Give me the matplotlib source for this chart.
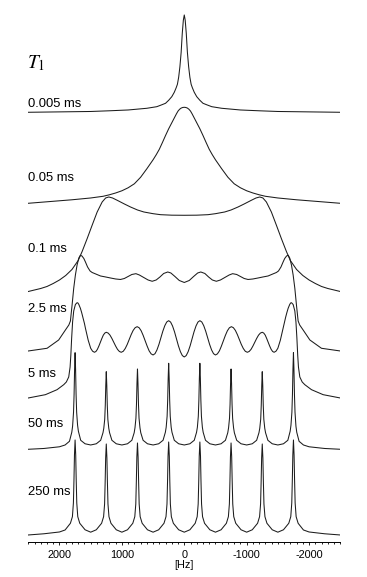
import matplotlib
matplotlib.use("Agg")
import matplotlib.pyplot as plt
from matplotlib.ticker import MultipleLocator, FixedLocator, FixedFormatter

plt.rcParams['font.family'] = ['Liberation Sans', 'DejaVu Sans']
plt.rcParams['mathtext.fontset'] = 'stix'

# labels of the traces, top to bottom
t1_labels = ['0.005 ms', '0.05 ms', '0.1 ms', '2.5 ms', '5 ms', '50 ms', '250 ms']

# frequency [Hz] and intensity (arbitrary units)
hz_0005 = [2500, 2000, 1500, 1200, 900, 600, 440, 360, 300, 250, 200, 160, 130, 110, 90, 70, 50, 32, 15, 0,
           -15, -32, -50, -70, -90, -110, -130, -160, -200, -250, -300, -360, -440, -600, -900, -1200,
           -1500, -2000, -2500]
int_0005 = [0, 0.4, 0.8, 1.5, 2.3, 4, 5.6, 7.5, 9, 12, 15.6, 20, 24.5, 28, 35, 45.6, 60, 79, 92, 97.3,
            92, 79, 60, 45.6, 35, 28, 24.5, 20, 15.6, 12, 9, 7.5, 5.6, 4, 2.3, 1.5,
            0.8, 0.4, 0]

hz_005 = [2500, 2100, 1800, 1500, 1300, 1200, 1100, 1000, 900, 800, 700, 600, 550, 500, 450, 400,
          350, 300, 250, 200, 150, 125, 100, 75, 50, 25, 0,
          -25, -50, -75, -100, -125, -150, -200, -250, -300, -350, -400, -450, -500, -550, -600, -700, -800,
          -900, -1000, -1100, -1200, -1300, -1500, -1800, -2100, -2500]
int_005 = [0, 2, 3.5, 5.3, 7, 8.5, 10.3, 12.5, 15.5, 19.5, 26, 34.5, 39, 43.5, 48.5, 54,
           60.8, 67.8, 74.5, 80.5, 86.5, 89.5, 92.2, 94, 95.2, 95.8, 96,
           95.8, 95.2, 94, 92.2, 89.5, 86.5, 80.5, 74.5, 67.8, 60.8, 54, 48.5, 43.5, 39, 34.5, 26, 19.5,
           15.5, 12.5, 10.3, 8.5, 7, 5.3, 3.5, 2, 0]

hz_01 = [2500, 2300, 2200, 2100, 2000, 1900, 1800, 1700, 1637, 1557, 1477, 1396, 1316,
         1260, 1210, 1150, 1075, 960, 862, 750, 648, 500, 380, 200, 0,
         -200, -380, -500, -648, -750, -862, -960, -1075, -1150, -1210, -1260,
         -1316, -1396, -1477, -1557, -1637, -1700, -1800, -1900, -2000, -2100, -2200, -2300, -2500]
int_01 = [0, 3, 5, 8, 11.5, 16, 22, 31, 40, 52.8, 66.2, 79.5, 89.5,
          93.5, 94.5, 93.5, 91.2, 87.5, 84.5, 81.5, 79.5, 77.8, 76.8, 76.3, 76.2,
          76.3, 76.8, 77.8, 79.5, 81.5, 84.5, 87.5, 91.2, 93.5, 94.5, 93.5,
          89.5, 79.5, 66.2, 52.8, 40, 31, 22, 16, 11.5, 8, 5, 3, 0]

hz_25 = [2500, 2199, 2013, 1905, 1850, 1825, 1798, 1772, 1745, 1718,
         1690, 1665, 1640, 1610, 1584, 1550, 1510, 1477, 1400, 1343,
         1260, 1183, 1100, 1022, 960, 900, 840, 775, 720, 650,
         580, 514, 450, 390, 330, 265, 215, 150, 80, 0,
         -80, -150, -215, -265, -330, -390, -450, -514, -580,
         -650, -720, -775, -840, -900, -960, -1022, -1100, -1183, -1260,
         -1343, -1400, -1477, -1510, -1550, -1584, -1610, -1640, -1665, -1690,
         -1718, -1745, -1772, -1798, -1825, -1850, -1905, -2013, -2199, -2500]
int_25 = [0, 2.7, 11, 21, 26, 30, 46, 62.7, 76, 86,
          93, 95.7, 95, 92.5, 89, 84, 80, 78.5, 76.5, 75,
          74, 73, 72, 71.5, 72.5, 74.5, 76.5, 77.3, 76, 73.5,
          71, 69.7, 71, 74, 77.5, 79, 78, 74.5, 70.5, 68.5,
          70.5, 74.5, 78, 79, 77.5, 74, 71, 69.7, 71,
          73.5, 76, 77.3, 76.5, 74.5, 72.5, 71.5, 72, 73, 74,
          75, 76.5, 78.5, 80, 84, 89, 92.5, 95, 95.7, 93,
          86, 76, 62.7, 46, 30, 26, 21, 11, 2.7, 0]

hz_5 = [2500, 2226, 2039, 1932, 1890, 1852, 1830, 1818, 1805, 1790,
        1772, 1745, 1718, 1705, 1690, 1665, 1645, 1625, 1600, 1584,
        1540, 1500, 1470, 1440, 1416, 1393, 1369, 1345, 1321, 1298,
        1274, 1250, 1220, 1190, 1160, 1130, 1100, 1070, 1040, 1010,
        978, 946, 914, 883, 851, 819, 787, 755, 723, 691,
        659, 627, 594, 563, 531, 500, 469, 438, 406, 375,
        344, 312, 281, 250, 219, 188, 156, 125, 94, 62,
        31, 0,
        -31, -62, -94, -125, -156, -188, -219, -250,
        -281, -312, -344, -375, -406, -438, -469, -500,
        -531, -563, -594, -627, -659, -691, -723, -755,
        -787, -819, -851, -883, -914, -946, -978, -1010,
        -1040, -1070, -1100, -1130, -1160, -1190, -1220, -1250,
        -1274, -1298, -1321, -1345, -1369, -1393, -1416, -1440,
        -1470, -1500, -1540, -1584, -1600, -1625, -1645, -1665, -1690, -1705, -1718,
        -1745, -1772, -1790, -1805, -1818, -1830, -1852, -1890, -1932, -2039, -2226, -2500]
int_5 = [0, 3.3, 8.3, 13.3, 16, 21, 31, 43, 60, 76,
         87, 93.5, 95.3, 95, 93.5, 89.7, 85.5, 80.8, 74.5, 69.7,
         57.8, 49.7, 46.8, 45.7, 46.5, 48.6, 51.9, 55.7, 59.5, 62.8,
         64.9, 65.7, 64.9, 62.8, 59.5, 55.7, 51.9, 48.6, 46.5, 45.7,
         46.7, 49.5, 53.6, 58.5, 63.4, 67.6, 70.3, 71.3, 70.2, 67.2,
         62.6, 57.2, 51.7, 47.1, 44.1, 43, 44.3, 48, 53.6, 60.2,
         66.7, 72.3, 76, 77.3, 75.9, 72, 66.1, 59.2, 52.2, 46.3,
         42.4, 41,
         42.4, 46.3, 52.2, 59.2, 66.1, 72, 75.9, 77.3,
         76, 72.3, 66.7, 60.2, 53.6, 48, 44.3, 43,
         44.1, 47.1, 51.7, 57.2, 62.6, 67.2, 70.2, 71.3,
         70.3, 67.6, 63.4, 58.5, 53.6, 49.5, 46.7, 45.7,
         46.5, 48.6, 51.9, 55.7, 59.5, 62.8, 64.9, 65.7,
         64.9, 62.8, 59.5, 55.7, 51.9, 48.6, 46.5, 45.7,
         46.8, 49.7, 57.8, 69.7, 74.5, 80.8, 85.5, 89.7, 93.5, 95, 95.3,
         93.5, 87, 76, 60, 43, 31, 21, 16, 13.3, 8.3, 3.3, 0]

hz_50 = [2500, 2250, 2000, 1910, 1840, 1803, 1790, 1775, 1766, 1758, 1750, 1742, 1734, 1725, 1710, 1697, 1660, 1590,
         1500, 1410, 1340, 1303, 1290, 1275, 1266, 1258, 1250, 1242, 1234, 1225, 1210, 1197, 1160, 1090,
         1000, 910, 840, 803, 790, 775, 766, 758, 750, 742, 734, 725, 710, 697, 660, 590,
         500, 410, 340, 303, 290, 275, 266, 258, 250, 242, 234, 225, 210, 197, 160, 90,
         0, -90, -160, -197, -210, -225, -234, -242, -250, -258, -266, -275, -290, -303, -340, -410,
         -500, -590, -660, -697, -710, -725, -734, -742, -750, -758, -766, -775, -790, -803, -840, -910,
         -1000, -1090, -1160, -1197, -1210, -1225, -1234, -1242, -1250, -1258, -1266, -1275, -1290, -1303, -1340, -1410,
         -1500, -1590, -1660, -1697, -1710, -1725, -1734, -1742, -1750, -1758, -1766, -1775, -1790, -1803, -1840, -1910,
         -2000, -2250, -2500]
int_50 = [0, 0.8, 2.5, 4.3, 8, 17, 23, 37, 55, 80, 96.6, 80, 55, 37, 24, 18, 9, 5.5,
          4.3, 5.5, 9, 16.5, 21, 30, 44, 64, 77.6, 64, 44, 30, 21, 16.5, 9, 5.5,
          4.3, 5.5, 9, 16.5, 21.5, 31, 45, 66, 80.3, 66, 45, 31, 21.5, 16.5, 9, 5.5,
          4.3, 5.5, 9, 17, 22, 33, 49, 71, 86, 71, 49, 33, 22, 17, 9, 5.5,
          4.3, 5.5, 9, 17, 22, 33, 49, 71, 86, 71, 49, 33, 22, 17, 9, 5.5,
          4.3, 5.5, 9, 16.5, 21.5, 31, 45, 66, 80.3, 66, 45, 31, 21.5, 16.5, 9, 5.5,
          4.3, 5.5, 9, 16.5, 21, 30, 44, 64, 77.6, 64, 44, 30, 21, 16.5, 9, 5.5,
          4.3, 5.5, 9, 18, 24, 37, 55, 80, 96.6, 80, 55, 37, 23, 17, 8, 4.3,
          2.5, 0.8, 0]

hz_250 = [2500, 2250, 2000, 1910, 1825, 1793, 1777, 1768, 1760, 1750, 1740, 1732, 1723, 1707, 1675, 1590,
          1500, 1410, 1325, 1293, 1277, 1268, 1260, 1250, 1240, 1232, 1223, 1207, 1175, 1090,
          1000, 910, 825, 793, 777, 768, 760, 750, 740, 732, 723, 707, 675, 590,
          500, 410, 325, 293, 277, 268, 260, 250, 240, 232, 223, 207, 175, 90,
          0, -90, -175, -207, -223, -232, -240, -250, -260, -268, -277, -293, -325, -410,
          -500, -590, -675, -707, -723, -732, -740, -750, -760, -768, -777, -793, -825, -910,
          -1000, -1090, -1175, -1207, -1223, -1232, -1240, -1250, -1260, -1268, -1277, -1293, -1325, -1410,
          -1500, -1590, -1675, -1707, -1723, -1732, -1740, -1750, -1760, -1768, -1777, -1793, -1825, -1910,
          -2000, -2250, -2500]
int_250 = [0, 1.2, 3, 5, 11.7, 18.3, 32, 55, 80, 95, 80, 55, 32, 18.3, 11.7, 5.2,
           2.8, 5.2, 11.7, 18.3, 31, 53, 77, 91, 77, 53, 31, 18.3, 11.7, 5.2,
           2.8, 5.2, 11.7, 18.3, 31, 54, 78, 92, 78, 54, 31, 18.3, 11.7, 5.2,
           2.8, 5.2, 11.7, 18.3, 31, 54, 79, 93, 79, 54, 31, 18.3, 11.7, 5.2,
           2.8, 5.2, 11.7, 18.3, 31, 54, 79, 93, 79, 54, 31, 18.3, 11.7, 5.2,
           2.8, 5.2, 11.7, 18.3, 31, 54, 78, 92, 78, 54, 31, 18.3, 11.7, 5.2,
           2.8, 5.2, 11.7, 18.3, 31, 53, 77, 91, 77, 53, 31, 18.3, 11.7, 5.2,
           2.8, 5.2, 11.7, 18.3, 32, 55, 80, 95, 80, 55, 32, 18.3, 11.7, 5,
           3, 1.2, 0]

spectra = [(hz_0005, int_0005), (hz_005, int_005), (hz_01, int_01), (hz_25, int_25),
           (hz_5, int_5), (hz_50, int_50), (hz_250, int_250)]

# vertical stacking of the traces and their label positions
offsets = [429.7, 338.7, 250.5, 191, 144, 92.7, 7]
label_y = [435, 361.3, 290.3, 230.3, 165.3, 114.7, 47]

fig = plt.figure(figsize=(3.67, 5.77), dpi=100)
ax = fig.add_axes([0.0771, 0.0607, 0.850, 0.922])

for (hz, inten), off in zip(spectra, offsets):
    ax.plot(hz, [v + off for v in inten], color='#1c1c1c', lw=0.75)

for name, ly in zip(t1_labels, label_y):
    ax.text(2500, ly, name, ha='left', va='baseline', fontsize=9.4)

ax.text(2515, 474, r'$T_1$', ha='left', va='baseline', fontsize=14)

ax.set_xlim(2500, -2500)
ax.set_ylim(0, 532)

for side in ['top', 'left', 'right']:
    ax.spines[side].set_visible(False)
ax.spines['bottom'].set_linewidth(0.7)
ax.set_yticks([])

ax.xaxis.set_major_locator(FixedLocator([2000, 1000, 0, -1000, -2000]))
ax.xaxis.set_major_formatter(FixedFormatter(['2000', '1000', '0', '-1000', '-2000']))
ax.xaxis.set_minor_locator(MultipleLocator(100))
ax.tick_params(axis='x', which='major', length=2.4, width=0.6, labelsize=7.8, pad=3.5)
ax.tick_params(axis='x', which='minor', length=1.5, width=0.6)
ax.set_xlabel('[Hz]', fontsize=7.8, labelpad=0)

fig.savefig('out.png', dpi=100)
